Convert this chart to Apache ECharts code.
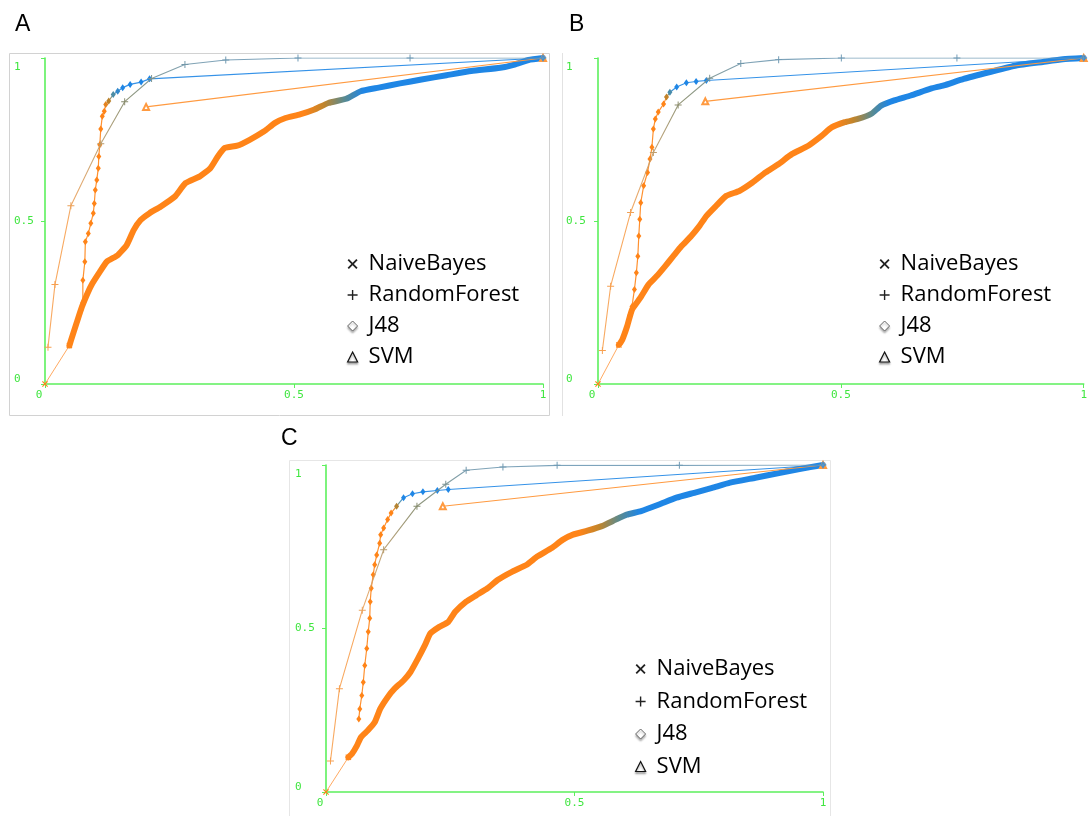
<!DOCTYPE html>
<html>
<head>
<meta charset="utf-8">
<script src="https://cdn.jsdelivr.net/npm/echarts@6/dist/echarts.min.js"></script>
<style>
html, body { margin: 0; padding: 0; background: #fff; }
#chart { width: 1090px; height: 816px; }
</style>
</head>
<body>
<div id="chart"></div>
<script>
// ROC curves (false positive rate, true positive rate) of four classifiers, three runs.
const seriesNames = ['NaiveBayes', 'RandomForest', 'J48', 'SVM'];
const panelLetters = ['A', 'B', 'C'];
const tickValues = [0, 0.5, 1];
const tickLabels = ['0', '0.5', '1'];

// Run A
const nbA = [[0,0],[0.049,0.118],[0.052,0.133],[0.063,0.185],[0.074,0.236],[0.085,0.277],[0.095,0.308],[0.11,0.344],[0.124,0.375],[0.146,0.395],[0.164,0.426],[0.178,0.472],[0.192,0.503],[0.21,0.524],[0.232,0.544],[0.261,0.575],[0.282,0.616],[0.311,0.637],[0.332,0.662],[0.347,0.698],[0.361,0.724],[0.386,0.731],[0.411,0.749],[0.44,0.775],[0.462,0.801],[0.483,0.816],[0.512,0.827],[0.541,0.842],[0.569,0.862],[0.605,0.875],[0.634,0.898],[0.67,0.909],[0.713,0.922],[0.756,0.934],[0.806,0.947],[0.856,0.96],[0.914,0.97],[0.943,0.98],[0.971,0.994],[1,1]];
const rfA = [[0.006,0.113],[0.02,0.305],[0.052,0.547],[0.112,0.737],[0.16,0.866],[0.214,0.937],[0.281,0.98],[0.363,0.994],[0.508,1],[0.733,1],[1,1]];
const j48A = [[0.076,0.25],[0.076,0.318],[0.08,0.375],[0.081,0.436],[0.087,0.462],[0.092,0.493],[0.097,0.524],[0.099,0.554],[0.101,0.595],[0.104,0.626],[0.107,0.662],[0.108,0.698],[0.11,0.734],[0.112,0.782],[0.115,0.821],[0.119,0.837],[0.122,0.857],[0.128,0.868],[0.137,0.888],[0.146,0.898],[0.156,0.909],[0.171,0.919],[0.193,0.926],[0.21,0.936],[1,1]];
const svmA = [[0.203,0.85],[1,1]];

// Run B
const nbB = [[0,0],[0.043,0.12],[0.05,0.136],[0.06,0.177],[0.07,0.228],[0.087,0.264],[0.104,0.305],[0.121,0.331],[0.138,0.361],[0.155,0.392],[0.172,0.423],[0.192,0.454],[0.209,0.485],[0.223,0.515],[0.243,0.546],[0.264,0.577],[0.291,0.592],[0.318,0.618],[0.345,0.649],[0.372,0.675],[0.399,0.705],[0.433,0.731],[0.461,0.762],[0.481,0.787],[0.508,0.803],[0.535,0.813],[0.563,0.829],[0.583,0.854],[0.61,0.87],[0.644,0.885],[0.685,0.906],[0.712,0.916],[0.753,0.936],[0.807,0.957],[0.861,0.977],[0.916,0.988],[0.957,0.996],[1,1]];
const rfB = [[0.009,0.103],[0.026,0.3],[0.067,0.526],[0.114,0.71],[0.165,0.856],[0.23,0.938],[0.294,0.983],[0.372,0.995],[0.501,1],[0.739,1],[1,1]];
const j48B = [[0.065,0.21],[0.07,0.238],[0.075,0.29],[0.079,0.341],[0.082,0.392],[0.084,0.454],[0.086,0.505],[0.088,0.556],[0.094,0.608],[0.102,0.649],[0.107,0.69],[0.111,0.726],[0.114,0.782],[0.118,0.813],[0.124,0.834],[0.135,0.859],[0.141,0.88],[0.148,0.895],[0.162,0.911],[0.182,0.924],[0.202,0.928],[0.223,0.931],[1,1]];
const svmB = [[0.221,0.867],[1,1]];

// Run C
const nbC = [[0,0],[0.045,0.106],[0.052,0.116],[0.062,0.141],[0.07,0.167],[0.084,0.188],[0.098,0.213],[0.109,0.254],[0.124,0.29],[0.138,0.316],[0.156,0.341],[0.17,0.367],[0.185,0.408],[0.199,0.449],[0.21,0.485],[0.228,0.505],[0.246,0.52],[0.26,0.551],[0.282,0.582],[0.303,0.602],[0.325,0.623],[0.346,0.649],[0.375,0.674],[0.404,0.695],[0.425,0.72],[0.454,0.746],[0.476,0.771],[0.497,0.787],[0.526,0.799],[0.555,0.813],[0.583,0.833],[0.605,0.848],[0.634,0.859],[0.67,0.879],[0.705,0.9],[0.741,0.915],[0.777,0.93],[0.813,0.946],[0.864,0.961],[0.914,0.976],[0.95,0.987],[1,1]];
const rfC = [[0.009,0.095],[0.027,0.316],[0.073,0.556],[0.116,0.741],[0.183,0.874],[0.241,0.941],[0.282,0.984],[0.356,0.994],[0.465,0.999],[0.711,0.999],[1,1]];
const j48C = [[0.066,0.223],[0.068,0.254],[0.072,0.295],[0.075,0.336],[0.078,0.387],[0.082,0.439],[0.085,0.49],[0.088,0.531],[0.089,0.582],[0.091,0.623],[0.095,0.664],[0.098,0.695],[0.102,0.725],[0.108,0.761],[0.11,0.787],[0.116,0.807],[0.124,0.833],[0.131,0.853],[0.142,0.874],[0.156,0.9],[0.174,0.912],[0.195,0.918],[0.224,0.922],[0.246,0.925],[1,1]];
const svmC = [[0.235,0.874],[1,1]];

// Threshold colour ramp: low thresholds orange, high thresholds blue.
const ORANGE = '#ff8418';
const BLUE = '#1f86e5';
const GREEN = '#5cf05c';
const GREEN_TXT = '#3fe63f';
const X_PATH = 'path://M0,1.3L1.3,0L5,3.7L8.7,0L10,1.3L6.3,5L10,8.7L8.7,10L5,6.3L1.3,10L0,8.7L3.7,5Z';
const PLUS_PATH = 'path://M4.3,0H5.7V4.3H10V5.7H5.7V10H4.3V5.7H0V4.3H4.3Z';

const panels = [
  { nb: nbA, rf: rfA, j48: j48A, svm: svmA,
    grid: { left: 45, top: 58, width: 498, height: 326 },
    title: { left: 10, top: 8 }, legend: { left: 347, top: 253, itemGap: 9 },
    yMargin: 31, nbRamp: [0.52, 0.64], j48Ramp: [0.85, 0.905] },
  { nb: nbB, rf: rfB, j48: j48B, svm: svmB,
    grid: { left: 598, top: 58, width: 498, height: 326 },
    title: { left: 564, top: 8 }, legend: { left: 879, top: 253, itemGap: 9 },
    yMargin: 32, nbRamp: [0.49, 0.6], j48Ramp: [0.87, 0.905] },
  { nb: nbC, rf: rfC, j48: j48C, svm: svmC,
    grid: { left: 326, top: 465, width: 497, height: 327 },
    title: { left: 276, top: 422 }, legend: { left: 635, top: 658, itemGap: 10.5 },
    yMargin: 31, nbRamp: [0.51, 0.63], j48Ramp: [0.86, 0.9] }
];

const labelFont = { fontFamily: 'DejaVu Sans Mono', fontSize: 11, color: GREEN_TXT };
const tickText = v => tickLabels[tickValues.indexOf(v)];

const grid = [], xAxis = [], yAxis = [], series = [], visualMap = [], legend = [], title = [];

panels.forEach((p, i) => {
  grid.push(Object.assign({ containLabel: false }, p.grid));
  title.push({ text: panelLetters[i], left: p.title.left, top: p.title.top,
    textStyle: { fontFamily: 'Liberation Sans', fontSize: 23, fontWeight: 'normal', color: '#000' } });

  xAxis.push({
    type: 'value', gridIndex: i, min: 0, max: 1, interval: 0.5,
    axisLine: { lineStyle: { color: GREEN, width: 1.6 } },
    axisTick: { length: 4, lineStyle: { color: GREEN, width: 1 } },
    splitLine: { show: false },
    axisLabel: Object.assign({}, labelFont, {
      margin: 6,
      formatter: v => v === 0 ? '{s|' + tickText(v) + '}' : '{n|' + tickText(v) + '}',
      rich: { s: Object.assign({ padding: [0, 12, 0, 0] }, labelFont), n: Object.assign({}, labelFont) }
    })
  });
  yAxis.push({
    type: 'value', gridIndex: i, min: 0, max: 1, interval: 0.5,
    axisLine: { lineStyle: { color: GREEN, width: 1.6 } },
    axisTick: { length: 4, lineStyle: { color: GREEN, width: 1 } },
    splitLine: { show: false },
    axisLabel: Object.assign({}, labelFont, {
      align: 'left', margin: p.yMargin,
      formatter: v => v === 1 ? '{lo|' + tickText(v) + '}' : v === 0 ? '{hi|' + tickText(v) + '}' : '{n|' + tickText(v) + '}',
      rich: {
        lo: Object.assign({ padding: [19, 0, 0, 0] }, labelFont),
        hi: Object.assign({ padding: [0, 0, 10, 0] }, labelFont),
        n: Object.assign({}, labelFont)
      }
    })
  });

  const axes = { xAxisIndex: i, yAxisIndex: i, animation: false };

  // NaiveBayes: thin first step, then the dense run of thresholds as a thick band
  series.push(Object.assign({
    name: seriesNames[0], type: 'line', data: p.nb.slice(0, 2),
    symbol: X_PATH, symbolSize: 6, showSymbol: true,
    lineStyle: { color: '#ff9a45', width: 1, opacity: 0.85 }, itemStyle: { color: ORANGE }, z: 2
  }, axes));
  visualMap.push({ type: 'continuous', show: false, seriesIndex: series.length, dimension: 0,
    min: p.nbRamp[0], max: p.nbRamp[1], inRange: { color: [ORANGE, '#c0852c', '#5b8a8e', BLUE] } });
  series.push(Object.assign({
    name: seriesNames[0], type: 'line', data: p.nb.slice(1), symbol: 'none', smooth: 0.15,
    lineStyle: { width: 6, join: 'round', cap: 'round' }, z: 3
  }, axes));

  // SVM
  series.push(Object.assign({
    name: seriesNames[3], type: 'line', data: p.svm,
    symbol: 'emptyTriangle', symbolSize: 6,
    lineStyle: { color: '#ff9a40', width: 1.1 }, itemStyle: { color: '#ff9a40' }, z: 4
  }, axes));

  // J48
  visualMap.push({ type: 'continuous', show: false, seriesIndex: series.length, dimension: 1,
    min: p.j48Ramp[0], max: p.j48Ramp[1], inRange: { color: [ORANGE, '#b9822c', '#4f8ca0', BLUE] } });
  series.push(Object.assign({
    name: seriesNames[2], type: 'line', data: p.j48,
    symbol: 'diamond', symbolSize: [5, 7],
    lineStyle: { width: 1.2, opacity: 0.9 }, z: 5
  }, axes));

  // RandomForest
  visualMap.push({ type: 'continuous', show: false, seriesIndex: series.length, dimension: 1,
    min: 0.5, max: 1, inRange: { color: ['#f7a050', '#dba266', '#b39a6c', '#848a6c', '#6f9ab5'] } });
  series.push(Object.assign({
    name: seriesNames[1], type: 'line', data: p.rf,
    symbol: PLUS_PATH, symbolSize: 7,
    lineStyle: { width: 1.1, opacity: 0.9 }, z: 6
  }, axes));

  legend.push({
    orient: 'vertical', left: p.legend.left, top: p.legend.top, itemGap: p.legend.itemGap,
    padding: 0, itemWidth: 10, itemHeight: 10, selectedMode: false,
    textStyle: { fontFamily: 'Open Sans', fontSize: 22, color: '#000', lineHeight: 22, padding: [0, 0, 0, 6] },
    data: [
      { name: seriesNames[0], icon: X_PATH, itemStyle: { color: '#222', borderWidth: 0 } },
      { name: seriesNames[1], icon: PLUS_PATH, itemStyle: { color: '#222', borderWidth: 0 } },
      { name: seriesNames[2], icon: 'diamond', itemStyle: { color: '#fff', borderColor: '#666', borderWidth: 1,
        shadowColor: 'rgba(0,0,0,0.3)', shadowBlur: 2, shadowOffsetY: 2 } },
      { name: seriesNames[3], icon: 'triangle', itemStyle: { color: '#fff', borderColor: '#111', borderWidth: 1.2,
        shadowColor: 'rgba(0,0,0,0.3)', shadowBlur: 2, shadowOffsetY: 2 } }
    ]
  });
});

const chart = echarts.init(document.getElementById('chart'), null, { renderer: 'canvas' });
chart.setOption({
  backgroundColor: '#fff',
  animation: false,
  title, grid, xAxis, yAxis, visualMap, legend, series,
  graphic: [
    { type: 'rect', z: -1, shape: { x: 9.5, y: 53.5, width: 540, height: 362 },
      style: { fill: 'none', stroke: '#d2d2d2', lineWidth: 1 } },
    { type: 'line', z: -1, shape: { x1: 562.5, y1: 53, x2: 562.5, y2: 416 },
      style: { stroke: '#e2e2e2', lineWidth: 1 } },
    { type: 'rect', z: -1, shape: { x: 289.5, y: 460.5, width: 541, height: 362 },
      style: { fill: 'none', stroke: '#e6e6e6', lineWidth: 1 } }
  ]
});
</script>
</body>
</html>
